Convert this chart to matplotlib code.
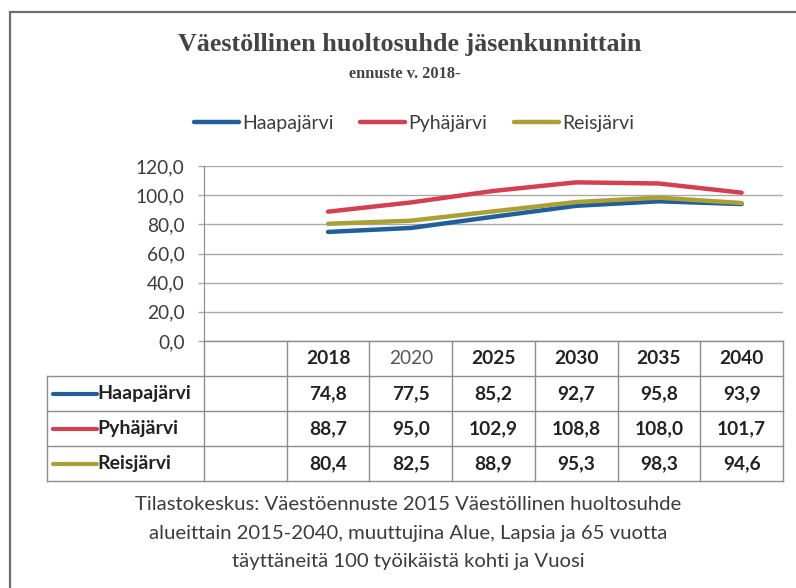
import matplotlib.pyplot as plt
import matplotlib.transforms as mtransforms
import matplotlib.patches as mpatches

plt.rcParams["font.family"] = ["Lato", "DejaVu Sans"]

years = ["2018", "2020", "2025", "2030", "2035", "2040"]
names = ["Haapajärvi", "Pyhäjärvi", "Reisjärvi"]
haapajarvi = [74.8, 77.5, 85.2, 92.7, 95.8, 93.9]
pyhajarvi = [88.7, 95.0, 102.9, 108.8, 108.0, 101.7]
reisjarvi = [80.4, 82.5, 88.9, 95.3, 98.3, 94.6]
yticks = [0, 20, 40, 60, 80, 100, 120]
source_lines = [
    "Tilastokeskus: Väestöennuste 2015 Väestöllinen huoltosuhde",
    "alueittain 2015-2040, muuttujina Alue, Lapsia ja 65 vuotta",
    "täyttäneitä 100 työikäistä kohti ja Vuosi",
]

series = [haapajarvi, pyhajarvi, reisjarvi]
colors = ["#215f9a", "#d3404f", "#a9a135"]
grid_c = "#a9a9a9"
text_c = "#3c3c3c"


def fi(v):
    return f"{v:.1f}".replace(".", ",")


W, H = 796, 588
fig = plt.figure(figsize=(W / 100, H / 100), dpi=100)

# outer chart border (only left/top inside the crop)
fig.patches.append(mpatches.Rectangle((10 / W, -0.1), 1.2, 1 - 12 / H + 0.1,
                                      transform=fig.transFigure, fill=False,
                                      edgecolor="#6e6e6e", lw=1.6))

left, right, top, bottom = 204, 783, 166, 341
ax = fig.add_axes([left / W, 1 - bottom / H, (right - left) / W, (bottom - top) / H])

xs = list(range(1, len(years) + 1))
for vals, c, n in zip(series, colors, names):
    ax.plot(xs, vals, color=c, lw=3.2, solid_joinstyle="round",
            solid_capstyle="round", label=n, zorder=3)

ax.set_xlim(-0.5, len(years) + 0.5)
ax.set_ylim(0, 120)
ax.set_yticks(yticks)
ax.set_yticklabels([fi(v) for v in yticks])
ax.tick_params(axis="y", direction="out", length=4, width=1, color=grid_c,
               pad=10, labelsize=13.8, labelcolor=text_c)
ax.set_xticks([])
for s in ["top", "right", "bottom"]:
    ax.spines[s].set_visible(False)
ax.spines["left"].set_color("#8a8a8a")
ax.yaxis.grid(True, color=grid_c, lw=1)
ax.set_axisbelow(True)

# data table under the plot
tr = mtransforms.blended_transform_factory(ax.transData, ax.transAxes)
rh = 0.2
n_rows = len(names) + 1
x0, x1 = -0.5, len(years) + 0.5
hx = -0.5 - (204 - 47) / 82.7
lc = "#8c8c8c"
ax.plot([x0, x1], [0, 0], color=lc, lw=1, transform=tr, clip_on=False)
for r in range(1, n_rows + 1):
    ax.plot([hx, x1], [-r * rh, -r * rh], color=lc, lw=1, transform=tr, clip_on=False)
for k in range(len(years) + 2):
    ax.plot([x0 + k, x0 + k], [0, -n_rows * rh], color=lc, lw=1, transform=tr, clip_on=False)
ax.plot([hx, hx], [-rh, -n_rows * rh], color=lc, lw=1, transform=tr, clip_on=False)

for i, y in enumerate(years):
    bold = y != "2020"
    ax.text(xs[i], -0.5 * rh, y, transform=tr, ha="center", va="center",
            fontsize=13.8, fontweight="bold" if bold else "normal",
            color="#222222" if bold else "#555555")

kx0 = -0.5 - (204 - 53) / 82.7
kx1 = -0.5 - (204 - 97) / 82.7
for r, (vals, c, n) in enumerate(zip(series, colors, names), start=1):
    yc = -(r + 0.5) * rh
    ax.plot([kx0, kx1], [yc, yc], color=c, lw=3, transform=tr, clip_on=False,
            solid_capstyle="round")
    ax.text(kx1 + 0.01, yc, n, transform=tr, ha="left", va="center",
            fontsize=14, fontweight="bold", color="#222222")
    for x, v in zip(xs, vals):
        ax.text(x, yc, fi(v), transform=tr, ha="center", va="center",
                fontsize=13.8, fontweight="bold", color="#222222")

# titles
fig.text(410 / W, 1 - 44 / H, "Väestöllinen huoltosuhde jäsenkunnittain",
         ha="center", va="center", fontsize=18.8, fontweight="bold",
         family="Liberation Serif", color="#444444")
fig.text(405 / W, 1 - 74 / H, "ennuste v. 2018-", ha="center", va="center",
         fontsize=11.8, fontweight="bold", family="Liberation Serif", color="#444444")

fig.legend(loc="center", bbox_to_anchor=(414 / W, 1 - 123 / H), ncol=3,
           frameon=False, fontsize=14, handlelength=2.3, handletextpad=0.15,
           columnspacing=1.4, labelcolor=text_c)

for i, line in enumerate(source_lines):
    fig.text(408 / W, 1 - (505 + 28.5 * i) / H, line, ha="center", va="center",
             fontsize=14.6, color=text_c)

fig.savefig("out.png", dpi=100)
